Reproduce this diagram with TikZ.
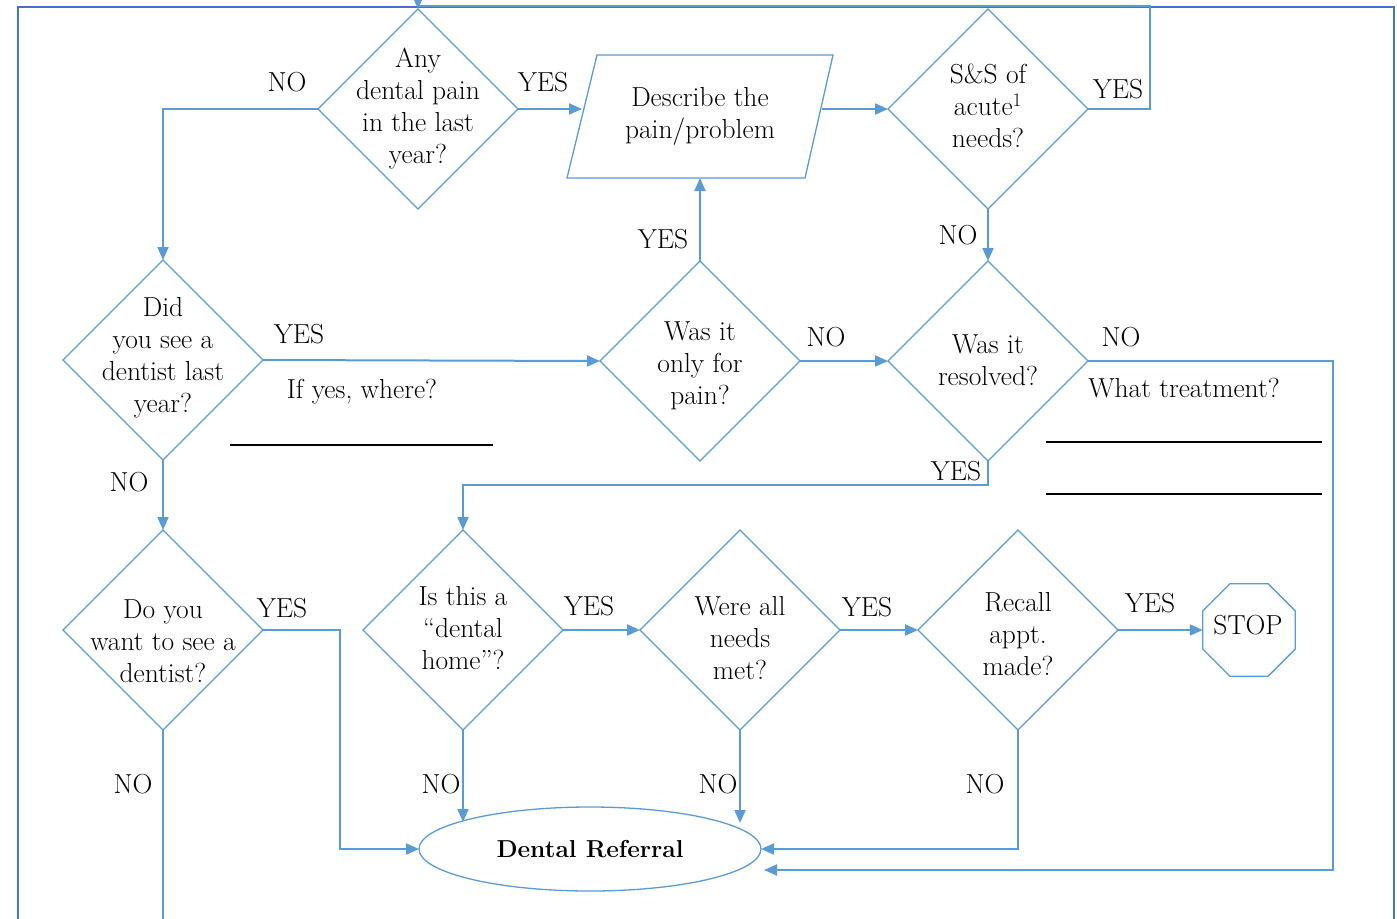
\documentclass[tikz,border=0pt]{standalone}
\usepackage{fontspec}
\usetikzlibrary{shapes.geometric,arrows.meta}
\definecolor{lnblue}{RGB}{91,155,213}
\definecolor{frblue}{RGB}{68,114,196}
\begin{document}
\begin{tikzpicture}[x=1pt,y=-1pt,
  dia/.style={diamond, draw=lnblue, line width=1.3pt, minimum width=200pt, minimum height=200pt, inner sep=0pt, outer sep=0pt},
  shp/.style={draw=lnblue, line width=1.3pt},
  txt/.style={align=center, font=\fontsize{27.5}{32}\selectfont, inner sep=0pt},
  lbl/.style={font=\fontsize{27.5}{32}\selectfont, inner sep=0pt},
  arr/.style={draw=lnblue, line width=2pt, -{Triangle[length=13pt,width=11pt]}},
  conn/.style={draw=lnblue, line width=2pt},
  uline/.style={draw=black, line width=1.4pt},
  frame/.style={draw=frblue, line width=2.5pt}]
\useasboundingbox (0,0) rectangle (1397,918);
\clip (0,0) rectangle (1397,918);
\fill[white] (0,0) rectangle (1397,918);
\draw[frame] (18,7) rectangle (1394,1000);

% diamonds
\node[dia] (d1) at (418,109) {};
\node[dia] (d2) at (988,109) {};
\node[dia] (d3) at (163,360) {};
\node[dia] (d4) at (700,361) {};
\node[dia] (d5) at (988,361) {};
\node[dia] (d6) at (163,630) {};
\node[dia] (d7) at (463,630) {};
\node[dia] (d8) at (740,630) {};
\node[dia] (d9) at (1018,630) {};

\node[txt] (t1) at (418,109) {Any\\dental pain\\in the last\\year?};
\node[txt] (t2) at (988,106) {S\&S of\\acute\textsuperscript{1}\\needs?};
\node[txt] (t3) at (163,358) {Did\\you see a\\dentist last\\year?};
\node[txt] (t4) at (700,366) {Was it\\only for\\pain?};
\node[txt] (t5) at (988,360) {Was it\\resolved?};
\node[txt] (t6) at (163,641) {Do you\\want to see a\\dentist?};
\node[txt] (t7) at (463,628) {Is this a\\“dental\\home”?};
\node[txt] (t8) at (740,638) {Were all\\needs\\met?};
\node[txt] (t9) at (1018,634) {Recall\\appt.\\made?};

% parallelogram
\draw[shp] (597,55) -- (833,55) -- (805,178) -- (567,178) -- cycle;
\coordinate (pin) at (582,109);
\coordinate (pout) at (822,109);
\coordinate (pbot) at (700,178);
\node[txt] (tp) at (700,116) {Describe the\\pain/problem};

% stop
\node[regular polygon, regular polygon sides=8, draw=lnblue, line width=1.3pt, minimum size=100pt, inner sep=0pt, outer sep=0pt] (stop) at (1249,630) {};
\node[lbl] (tstop) at (1248,625) {STOP};

% ellipse
\node[ellipse, draw=lnblue, line width=1.3pt, minimum width=342pt, minimum height=84pt, inner sep=0pt, outer sep=0pt, font=\fontsize{24.5}{32}\selectfont\bfseries] (ell) at (590,849) {Dental Referral};

% helper coordinates
\coordinate (topr) at (1150,6);
\coordinate (yj) at (988,485);
\coordinate (rc) at (1333,870);
\coordinate (eR2) at (764,870);
\coordinate (lc) at (340,849);
\coordinate (bot) at (163,940);
\coordinate (e7) at (463,822);
\coordinate (e8) at (740,823);

% connectors
\draw[arr] (d1.west) -| (d3.north);
\draw[arr] (d1.east) -- (pin);
\draw[arr] (pout) -- (d2.west);
\draw[arr] (d2.east) -| (topr) -| (d1.north);
\draw[arr] (d2.south) -- (d5.north);
\draw[arr] (d3.east) -- (d4.west);
\draw[arr] (d3.south) -- (d6.north);
\draw[arr] (d4.north) -- (pbot);
\draw[arr] (d4.east) -- (d5.west);
\draw[arr] (d5.east) -| (rc) -- (eR2);
\draw[arr] (d5.south) -- (yj) -| (d7.north);
\draw[arr] (d6.east) -| (lc) -- (ell.west);
\draw[conn] (d6.south) -- (bot);
\draw[arr] (d7.east) -- (d8.west);
\draw[arr] (d7.south) -- (e7);
\draw[arr] (d8.east) -- (d9.west);
\draw[arr] (d8.south) -- (e8);
\draw[arr] (d9.south) |- (ell.east);
\draw[arr] (d9.east) -- (stop.west);

% labels
\node[lbl] (l1) at (287,82) {NO};
\node[lbl] (l2) at (543,82) {YES};
\node[lbl] (l3) at (1118,89) {YES};
\node[lbl] (l4) at (958,235) {NO};
\node[lbl] (l5) at (299,334) {YES};
\node[lbl] (l6) at (362,392) {If yes, where?};
\node[lbl] (l7) at (663,239) {YES};
\node[lbl] (l8) at (826,337) {NO};
\node[lbl] (l9) at (1121,337) {NO};
\node[lbl] (l10) at (1184,388) {What treatment?};
\node[lbl] (l11) at (956,471) {YES};
\node[lbl] (l12) at (129,482) {NO};
\node[lbl] (l13) at (282,608) {YES};
\node[lbl] (l14) at (589,606) {YES};
\node[lbl] (l15) at (867,607) {YES};
\node[lbl] (l16) at (1150,603) {YES};
\node[lbl] (l17) at (133,784) {NO};
\node[lbl] (l18) at (441,784) {NO};
\node[lbl] (l19) at (718,784) {NO};
\node[lbl] (l20) at (985,784) {NO};

% blanks
\draw[uline] (230,445) -- (493,445);
\draw[uline] (1046,442) -- (1322,442);
\draw[uline] (1046,494) -- (1322,494);
\end{tikzpicture}
\end{document}
